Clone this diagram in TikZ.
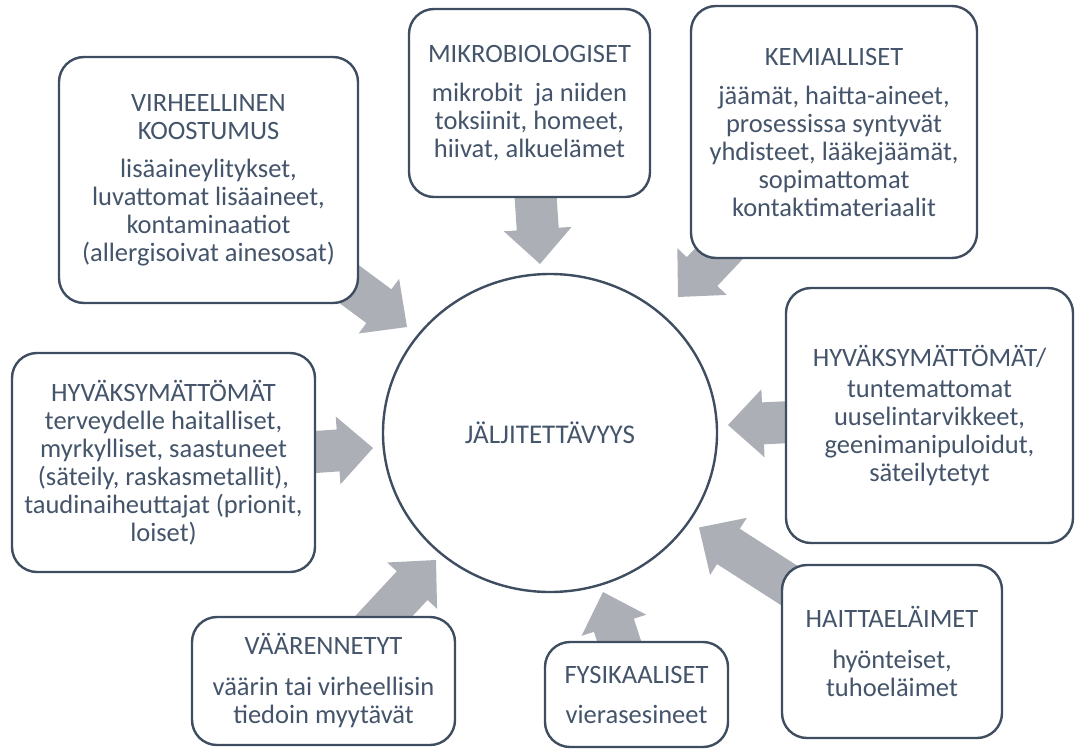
\documentclass[tikz,border=0pt]{standalone}
\usepackage{fontspec}
\setmainfont{Carlito}
\usetikzlibrary{calc,shapes.geometric,backgrounds}
\definecolor{txt}{HTML}{44546A}
\definecolor{edgecol}{HTML}{3F4D60}
\definecolor{arr}{RGB}{173,175,182}
\tikzset{
  box/.style={draw=edgecol, line width=2.4pt, rounded corners=25pt, fill=white,
    text=txt, align=center, inner sep=0pt, font=\fontsize{26.5pt}{28pt}\selectfont},
  hub/.style={ellipse, draw=edgecol, line width=2.4pt, fill=white, text=txt,
    inner sep=0pt, font=\fontsize{27pt}{30pt}\selectfont},
  arrowfill/.style={fill=arr}
}
\newcommand{\blockarrow}[2]{%
  \coordinate (hb) at ($(#2)!35pt!(#1)$);
  \fill[arrowfill] ($(#1)!21pt!90:(#2)$) -- ($(hb)!21pt!90:(#2)$) -- ($(hb)!34pt!90:(#2)$)
    -- (#2) -- ($(hb)!34pt!-90:(#2)$) -- ($(hb)!21pt!-90:(#2)$) -- ($(#1)!21pt!-90:(#2)$) -- cycle;
}
\begin{document}
\begin{tikzpicture}[x=1pt,y=-1pt]
\useasboundingbox (0,0) rectangle (1075,749);

\node[hub, minimum width=334pt, minimum height=318pt] (hubc) at (550,433) {JÄLJITETTÄVYYS};

\node[box, minimum width=299pt, minimum height=246pt] (virh) at (208.5,180)
  {VIRHEELLINEN\\KOOSTUMUS\\[10pt]lisäaineylitykset,\\luvattomat lisäaineet,\\kontaminaatiot\\(allergisoivat ainesosat)};
\node[box, minimum width=241pt, minimum height=188pt] (mikro) at (529.5,103)
  {MIKROBIOLOGISET\\[11pt]mikrobit\ \ ja niiden\\toksiinit, homeet,\\hiivat, alkuelämet};
\node[box, minimum width=286pt, minimum height=252pt] (kemi) at (834,132)
  {KEMIALLISET\\[11pt]jäämät, haitta-aineet,\\prosessissa syntyvät\\yhdisteet, lääkejäämät,\\sopimattomat\\kontaktimateriaalit};
\node[box, minimum width=287pt, minimum height=255pt] (hyvr) at (929.5,415.5)
  {HYVÄKSYMÄTTÖMÄT/\\[3pt]tuntemattomat\\uuselintarvikkeet,\\geenimanipuloidut,\\säteilytetyt};
\node[box, minimum width=220pt, minimum height=173pt] (haitta) at (892,651.5)
  {HAITTAELÄIMET\\[13pt]hyönteiset,\\tuhoeläimet};
\node[box, minimum width=183pt, minimum height=105pt] (fys) at (636.5,694.5)
  {FYSIKAALISET\\[12pt]vierasesineet};
\node[box, minimum width=263pt, minimum height=128pt] (vaar) at (323.5,681)
  {VÄÄRENNETYT\\[13pt]väärin tai virheellisin\\tiedoin myytävät};
\node[box, minimum width=303pt, minimum height=219pt] (hyvl) at (163.5,462.5)
  {HYVÄKSYMÄTTÖMÄT\\terveydelle haitalliset,\\myrkylliset, saastuneet\\(säteily, raskasmetallit),\\taudinaiheuttajat (prionit,\\loiset)};

\coordinate (tvirh) at (407,327);
\coordinate (tmikro) at (540,264);
\coordinate (tkemi) at (678,297);
\coordinate (thyvr) at (728,425);
\coordinate (thaitta) at (699,527.5);
\coordinate (tfys) at (603,592);
\coordinate (tvaar) at (436,560);
\coordinate (thyvl) at (373,448);

\begin{pgfonlayer}{background}
\blockarrow{virh.center}{tvirh}
\blockarrow{mikro.center}{tmikro}
\blockarrow{kemi.center}{tkemi}
\blockarrow{hyvr.center}{thyvr}
\blockarrow{haitta.center}{thaitta}
\blockarrow{fys.center}{tfys}
\blockarrow{vaar.center}{tvaar}
\blockarrow{hyvl.center}{thyvl}
\end{pgfonlayer}
\end{tikzpicture}
\end{document}
